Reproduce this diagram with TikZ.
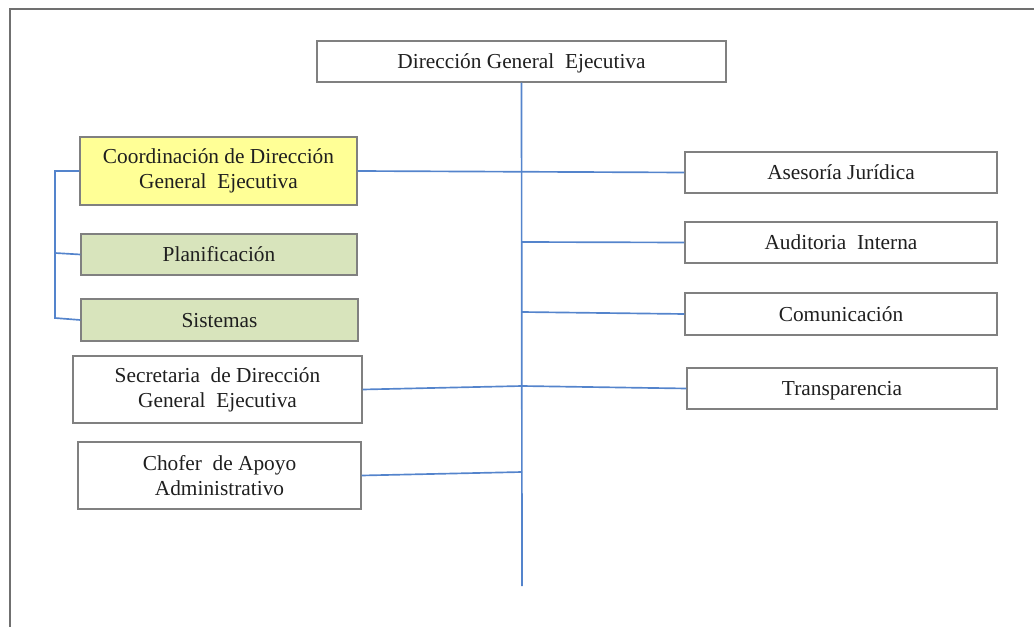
\documentclass[tikz,border=0pt]{standalone}
\usepackage{fontspec}
\setmainfont{Liberation Serif}
\begin{document}
\begin{tikzpicture}[x=0.75pt,y=-0.75pt,
  box/.style={draw=boxgray,line width=0.9pt,rectangle,inner sep=0pt,align=center,
    font=\fontsize{16}{18.75}\selectfont,text=black!88},
  oneline/.style={text height=10.6pt,text depth=0pt},
  link/.style={draw=linkblue,line width=1.25pt},
  frame/.style={draw=framegray,line width=1.6pt}]
\definecolor{boxgray}{RGB}{128,128,128}
\definecolor{framegray}{RGB}{112,112,112}
\definecolor{linkblue}{RGB}{84,132,204}
\definecolor{coordyellow}{RGB}{255,255,150}
\definecolor{subgreen}{RGB}{216,228,188}
\useasboundingbox (0,0) rectangle (1034,627);
% frame
\draw[frame] (10,627) -- (10,9) -- (1034,9);
% nodes
\node[box,oneline,minimum width=409*0.75pt,minimum height=41*0.75pt] (dge) at (521.5,61.5) {Dirección General\ \ Ejecutiva};
\node[box,fill=coordyellow,minimum width=277*0.75pt,minimum height=68*0.75pt] (coord) at (218.5,171) {Coordinación de Dirección\\General\ \ Ejecutiva};
\node[box,oneline,fill=subgreen,minimum width=276*0.75pt,minimum height=41*0.75pt] (plan) at (219,254.5) {Planificación};
\node[box,oneline,fill=subgreen,minimum width=277*0.75pt,minimum height=42*0.75pt] (sist) at (219.5,320) {Sistemas};
\node[box,minimum width=289*0.75pt,minimum height=67*0.75pt] (secr) at (217.5,389.5) {Secretaria\ \ de Dirección\\General\ \ Ejecutiva};
\node[box,minimum width=283*0.75pt,minimum height=67*0.75pt] (chof) at (219.5,475.5) {Chofer\ \ de Apoyo\\Administrativo};
\node[box,oneline,minimum width=312*0.75pt,minimum height=41*0.75pt] (ases) at (841,172.5) {Asesoría Jurídica};
\node[box,oneline,minimum width=312*0.75pt,minimum height=41*0.75pt] (audi) at (841,242.5) {Auditoria\ \ Interna};
\node[box,oneline,minimum width=312*0.75pt,minimum height=42*0.75pt] (comu) at (841,314) {Comunicación};
\node[box,oneline,minimum width=310*0.75pt,minimum height=41*0.75pt] (tran) at (842,388.5) {Transparencia};
% trunk coordinates
\coordinate (tend) at (522,586);
\coordinate (jau) at (522,242);
\coordinate (jco) at (522,312);
\coordinate (jse) at (522,386);
\coordinate (jch) at (522,472);
\coordinate (b1) at (55,171);
\coordinate (b2) at (55,253);
\coordinate (b3) at (55,318);
% connectors
\draw[link] (dge.south) -- (tend);
\draw[link] (coord.east) -- (ases.west);
\draw[link] (jau) -- (audi.west);
\draw[link] (jco) -- (comu.west);
\draw[link] (secr.east) -- (jse) -- (tran.west);
\draw[link] (chof.east) -- (jch);
\draw[link] (coord.west) -- (b1) -- (b3) -- (sist.west);
\draw[link] (b2) -- (plan.west);
\end{tikzpicture}
\end{document}
